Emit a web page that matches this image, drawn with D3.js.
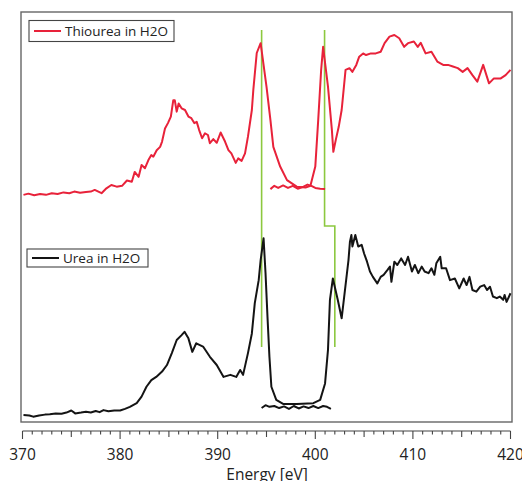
<!DOCTYPE html>
<html>
<head>
<meta charset="utf-8">
<script src="https://cdn.jsdelivr.net/npm/d3@7"></script>
<style>
  html, body { margin: 0; padding: 0; background: #fff; }
  svg { display: block; }
  text { font-family: "Open Sans", "Noto Sans", sans-serif; fill: #222; }
</style>
</head>
<body>
<svg id="chart" width="522" height="481"></svg>
<script>
// Photon energy (eV) and intensity (arb. units, vertically offset) for each spectrum.
const thioureaE = [370.1,370.6,371.2,371.8,372.4,373.0,373.6,374.2,374.8,375.3,375.9,376.5,377.0,377.4,378.1,378.6,379.1,379.65,380.2,380.7,381.2,381.5,381.9,382.2,382.55,382.9,383.2,383.4,383.75,384.1,384.3,384.6,384.9,385.2,385.45,385.6,385.8,386.0,386.3,386.65,387.0,387.3,387.6,387.85,388.1,388.4,388.7,389.0,389.2,389.55,389.9,390.3,390.75,391.1,391.4,391.85,392.1,392.45,392.8,393.1,393.5,393.65,394.0,394.4,395.0,395.4,395.7,396.4,397.1,398.1,399.0,399.5,400.0,400.3,400.6,400.8,401.3,401.7,401.85,402.1,402.4,402.7,402.8,403.1,403.5,403.8,404.2,404.5,404.9,405.2,405.7,406.2,406.7,407.1,407.6,408.1,408.6,409.1,409.5,410.1,410.5,410.8,411.3,411.9,412.5,413.1,413.6,414.1,414.6,415.1,415.6,416.1,416.6,417.2,417.8,418.3,419.0,419.5,420.0];
const thioureaI = [55.4,55.7,55.3,55.6,55.4,55.8,55.6,56.0,55.8,56.2,55.9,56.1,56.2,56.6,55.8,57.0,57.8,57.4,57.6,58.9,58.6,61.0,59.8,62.7,61.9,63.9,65.1,64.7,66.3,67.1,68.4,71.6,72.9,74.5,78.5,78.5,75.7,77.7,76.5,76.1,74.5,74.1,72.9,73.2,71.2,69.2,70.4,70.0,68.0,69.0,68.1,70.6,68.4,66.3,65.5,63.2,64.3,63.7,65.5,69.6,76.1,81.0,90.0,92.4,81.8,73.7,67.1,62.3,59.0,57.4,57.2,57.6,62.3,73.7,85.9,91.5,81.8,71.2,65.9,68.8,72.0,76.1,78.5,85.9,86.3,85.4,87.1,89.1,89.9,89.5,89.9,89.9,90.3,92.4,94.0,94.4,93.6,91.5,92.4,92.8,91.5,92.5,89.9,90.3,87.9,87.1,87.1,86.7,86.3,85.4,86.3,84.6,83.0,87.1,82.6,83.8,83.8,84.6,85.9];

// Short baseline scan across the resonance gap
const thioureaGapE = [395.4,395.8,396.2,396.7,397.2,397.7,398.2,398.7,399.2,399.6,400.0,400.5,401.0];
const thioureaGapI = [56.8,57.6,57.1,57.7,57.1,57.6,56.9,57.3,57.9,57.6,57.1,56.9,56.8];

const ureaE = [370.1,370.7,371.1,371.7,372.3,372.8,373.4,374.0,374.5,375.0,375.4,376.0,376.5,377.0,377.5,377.9,378.3,378.8,379.4,380.0,380.5,381.0,381.7,382.2,382.7,383.2,383.7,384.3,384.8,385.3,385.8,386.3,386.6,387.0,387.4,387.8,388.5,389.2,389.9,390.6,391.3,391.9,392.3,392.6,393.1,393.5,393.8,394.2,394.4,394.7,394.9,395.1,395.3,395.5,396.0,396.7,398.1,399.8,400.5,401.0,401.3,401.5,401.8,402.3,402.7,403.0,403.4,403.55,403.7,403.8,404.1,404.4,404.75,405.0,405.3,405.6,405.9,406.35,406.7,407.0,407.4,407.65,407.8,408.1,408.4,408.8,409.2,409.5,409.9,410.2,410.55,410.9,411.2,411.6,411.9,412.2,412.4,412.8,412.95,413.4,413.8,414.3,414.75,415.2,415.5,415.8,416.1,416.5,416.9,417.3,417.6,417.9,418.2,418.6,418.9,419.25,419.4,419.6,420.0];
const ureaI = [1.7,1.6,1.3,1.6,1.8,1.9,2.1,2.0,2.3,2.8,2.1,2.3,2.5,2.3,2.7,2.4,2.9,2.6,2.8,2.8,3.2,3.7,4.6,6.2,8.6,10.2,11.0,12.3,13.9,16.8,20.0,21.2,22.0,20.4,17.1,19.2,18.4,15.9,13.9,11.0,11.5,11.0,12.7,11.5,16.8,21.6,29.0,34.6,39.5,44.8,36.3,25.7,15.9,8.6,5.4,4.4,4.4,4.6,5.4,9.4,17.6,29.8,35.0,29.8,25.3,31.4,39.5,44.0,45.6,42.8,45.6,42.8,43.2,41.1,39.1,36.7,35.4,33.8,35.4,35.9,37.1,37.9,34.2,39.1,38.3,39.9,38.3,40.3,36.7,38.3,36.3,37.9,36.7,36.3,37.5,35.9,38.7,40.3,37.5,37.5,34.6,35.0,32.6,35.0,33.4,35.4,32.2,31.8,33.0,33.4,32.2,33.0,30.6,30.2,30.6,29.8,31.0,29.3,31.4];

const ureaGapE = [394.5,394.9,395.3,395.8,396.3,396.8,397.3,397.8,398.3,398.8,399.3,399.8,400.3,400.8,401.2,401.6];
const ureaGapI = [3.4,4.1,3.7,3.9,3.4,3.8,3.2,3.9,3.3,3.8,3.4,3.9,3.4,3.9,3.7,3.2];

// Resonance position markers (energy, intensity) drawn as green step lines
const markerLeftE = [394.5, 394.5];
const markerLeftI = [95.6, 18.3];
const markerRightE = [400.95, 400.95, 402.0, 402.0];
const markerRightI = [95.6, 47.8, 47.8, 18.3];

const xDomain = [370, 420];
const xTickLabels = [370, 380, 390, 400, 410, 420];
const xTitle = "Energy [eV]";
const legendThiourea = "Thiourea in H2O";
const legendUrea = "Urea in H2O";

const svg = d3.select("#chart");
const frame = { left: 21, top: 12, right: 512, bottom: 422 };

const x = d3.scaleLinear().domain(xDomain).range([22.5, 510.5]);
const y = d3.scaleLinear().domain([0, 100]).range([422, 12]);

const zip = (es, is) => es.map((e, i) => [e, is[i]]);
const line = d3.line().x(d => x(d[0])).y(d => y(d[1]));

const red = "#e8223a", black = "#141414", green = "#8cc83f";

// plot frame
svg.append("rect")
  .attr("x", frame.left).attr("y", frame.top)
  .attr("width", frame.right - frame.left).attr("height", frame.bottom - frame.top)
  .attr("fill", "none").attr("stroke", "#666").attr("stroke-width", 1.4);

// green markers
[[markerLeftE, markerLeftI], [markerRightE, markerRightI]].forEach(([e, i]) => {
  svg.append("path").datum(zip(e, i))
    .attr("d", line).attr("fill", "none")
    .attr("stroke", green).attr("stroke-width", 1.6);
});

// spectra
const series = [
  [thioureaE, thioureaI, red],
  [thioureaGapE, thioureaGapI, red],
  [ureaE, ureaI, black],
  [ureaGapE, ureaGapI, black]
];
series.forEach(([e, i, c]) => {
  svg.append("path").datum(zip(e, i))
    .attr("d", line).attr("fill", "none")
    .attr("stroke", c).attr("stroke-width", 2)
    .attr("stroke-linejoin", "round");
});

// x axis with major (10), medium (5) and minor (1) ticks
const axisY = 431;
const axisG = svg.append("g").attr("transform", `translate(0,${axisY})`);
axisG.append("line").attr("x1", x(370)).attr("x2", x(420))
  .attr("stroke", "#444").attr("stroke-width", 1.2);
d3.range(370, 421, 1).forEach(v => {
  const len = v % 10 === 0 ? 8 : (v % 5 === 0 ? 6 : 3.5);
  axisG.append("line").attr("x1", x(v)).attr("x2", x(v))
    .attr("y1", 0).attr("y2", len)
    .attr("stroke", "#444").attr("stroke-width", 1.1);
});
axisG.selectAll("text.tick").data(xTickLabels).join("text")
  .attr("class", "tick")
  .attr("x", d => x(d)).attr("y", 29)
  .attr("text-anchor", "middle")
  .attr("font-size", 15.5)
  .text(d => d);

svg.append("text")
  .attr("x", 267).attr("y", 480)
  .attr("text-anchor", "middle")
  .attr("font-size", 15.5)
  .text(xTitle);

// legends
function legend(x0, y0, w, h, color, label) {
  const g = svg.append("g");
  g.append("rect").attr("x", x0).attr("y", y0).attr("width", w).attr("height", h)
    .attr("fill", "#fff").attr("stroke", "#444").attr("stroke-width", 1.1);
  g.append("line").attr("x1", x0 + 5).attr("x2", x0 + 32)
    .attr("y1", y0 + h / 2).attr("y2", y0 + h / 2)
    .attr("stroke", color).attr("stroke-width", 2);
  g.append("text").attr("x", x0 + 36).attr("y", y0 + h / 2 + 5)
    .attr("font-size", 13.5).text(label);
}
legend(29, 20.5, 145, 21, red, legendThiourea);
legend(27, 249, 121, 18, black, legendUrea);
</script>
</body>
</html>
